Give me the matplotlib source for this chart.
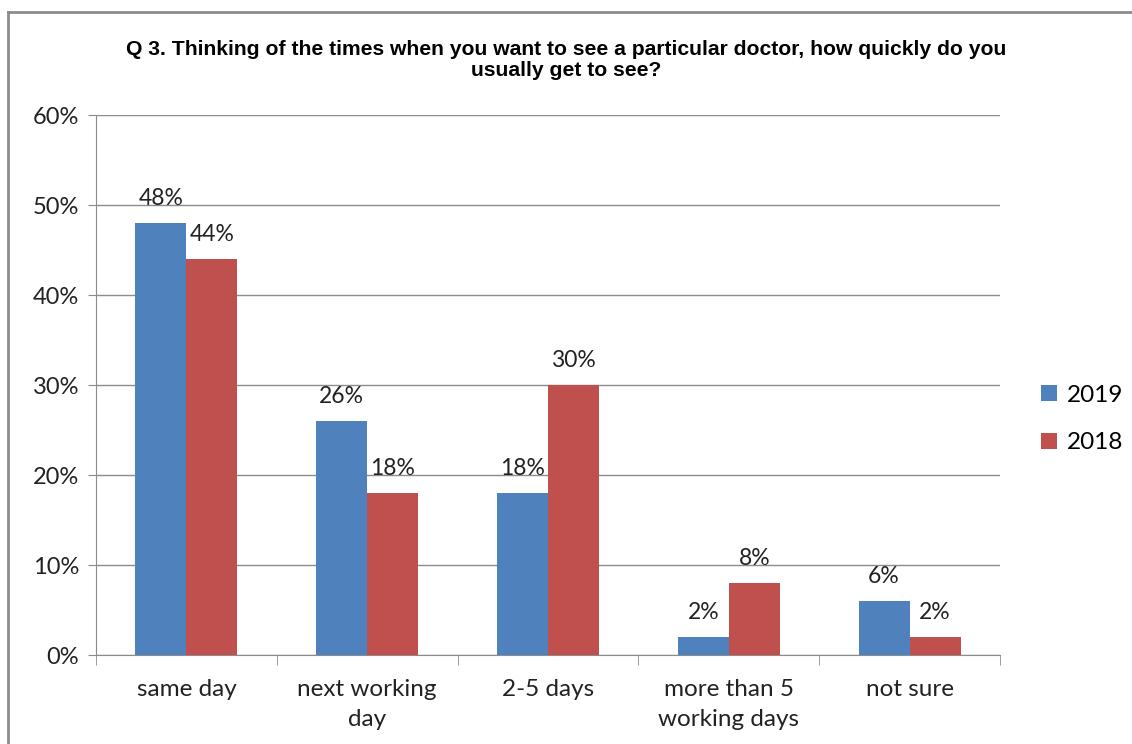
import matplotlib.pyplot as plt
import numpy as np
from matplotlib.lines import Line2D
from matplotlib.ticker import FuncFormatter

categories = ['same day', 'next working\nday', '2-5 days', 'more than 5\nworking days', 'not sure']
series_names = ['2019', '2018']
vals_2019 = [48, 26, 18, 2, 6]
vals_2018 = [44, 18, 30, 8, 2]
colors = ['#4F81BD', '#C0504D']
title = 'Q 3. Thinking of the times when you want to see a particular doctor, how quickly do you\nusually get to see?'

plt.rcParams['font.family'] = ['Lato', 'DejaVu Sans']

fig = plt.figure(figsize=(11.32, 7.44), dpi=100)
ax = fig.add_axes([96 / 1132, 1 - 655 / 744, 904 / 1132, 540 / 744])

x = np.arange(len(categories))
w = 0.282
for i, (name, vals) in enumerate(zip(series_names, [vals_2019, vals_2018])):
    offs = (i - 0.5) * w
    bars = ax.bar(x + offs, vals, w, color=colors[i], label=name, zorder=3)
    for b, v in zip(bars, vals):
        ax.annotate(f'{v}%', (b.get_x() + b.get_width() / 2, v), xytext=(0, 10),
                    textcoords='offset points', ha='center', va='bottom',
                    fontsize=16.5, color='#222222', zorder=4)

ax.set_xlim(-0.5, len(categories) - 0.5)
ax.set_ylim(0, 60)
ax.set_yticks(range(0, 61, 10))
ax.yaxis.set_major_formatter(FuncFormatter(lambda v, p: f'{int(v)}%'))
ax.grid(axis='y', color='#8c8c8c', linewidth=1, zorder=0)
ax.set_axisbelow(True)

for s in ['top', 'right']:
    ax.spines[s].set_visible(False)
for s in ['left', 'bottom']:
    ax.spines[s].set_color('#8c8c8c')

ax.set_xticks(x)
ax.set_xticklabels(categories, fontsize=17.5, color='#222222', linespacing=1.55)
ax.tick_params(axis='x', length=0, pad=17)
ax.set_xticks(np.arange(-0.5, len(categories)), minor=True)
ax.tick_params(axis='x', which='minor', length=7, color='#8c8c8c')
ax.tick_params(axis='y', labelsize=17, colors='#222222', length=6, color='#8c8c8c', pad=6)

fig.text(0.5, 1 - 60 / 744, title, ha='center', va='center', fontsize=15.2,
         fontweight='bold', family='Liberation Sans', linespacing=1.15)

ax.legend(loc='center left', bbox_to_anchor=(1041 / 1132, 1 - 419 / 744),
          bbox_transform=fig.transFigure, frameon=False, fontsize=17.5,
          handlelength=0.65, handleheight=0.65, handletextpad=0.4, labelspacing=1.1,
          borderpad=0, borderaxespad=0)

# chart area border (top and left only visible)
fig.add_artist(Line2D([8 / 1132, 1], [1 - 12 / 744, 1 - 12 / 744], color='#8c8c8c', lw=2,
                      transform=fig.transFigure))
fig.add_artist(Line2D([8 / 1132, 8 / 1132], [0, 1 - 12 / 744], color='#8c8c8c', lw=2,
                      transform=fig.transFigure))

fig.savefig('out.png', dpi=100)
